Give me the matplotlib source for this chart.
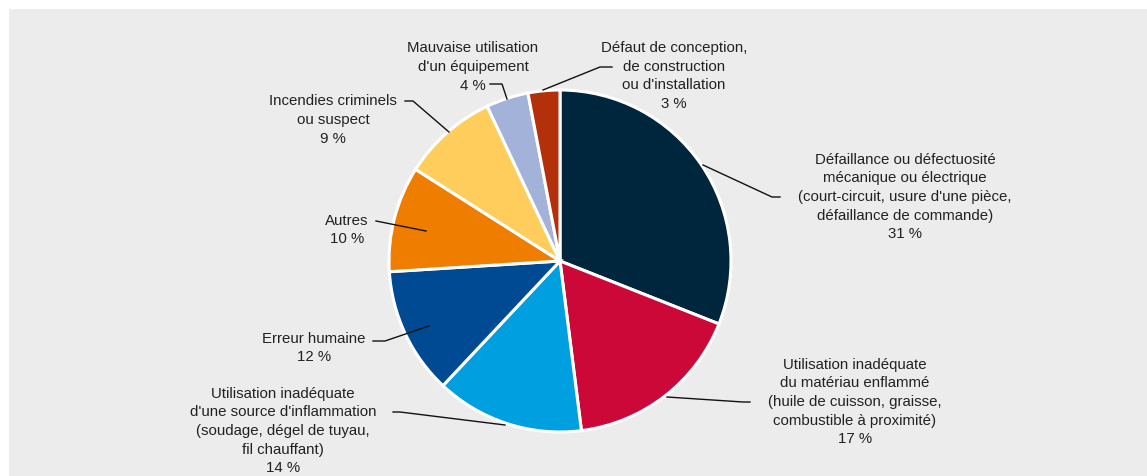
import matplotlib.pyplot as plt
from matplotlib.patches import Rectangle

plt.rcParams['font.family'] = ['Liberation Sans', 'DejaVu Sans']

# causes, clockwise from 12 o'clock
labels = [
    "Défaillance ou défectuosité\nmécanique ou électrique\n(court-circuit, usure d'une pièce,\ndéfaillance de commande)",
    "Utilisation inadéquate\ndu matériau enflammé\n(huile de cuisson, graisse,\ncombustible à proximité)",
    "Utilisation inadéquate\nd'une source d'inflammation\n(soudage, dégel de tuyau,\nfil chauffant)",
    "Erreur humaine",
    "Autres",
    "Incendies criminels\nou suspect",
    "Mauvaise utilisation\nd'un équipement",
    "Défaut de conception,\nde construction\nou d'installation",
]
values = [31, 17, 14, 12, 10, 9, 4, 3]
colors = ["#00263e", "#cc0838", "#009fe0", "#004a94", "#ef7d00", "#ffcd5c", "#a3b2d9", "#b3300a"]

W, H = 1147, 477
fig = plt.figure(figsize=(W / 100, H / 100), dpi=100, facecolor="white")
ax = fig.add_axes([0, 0, 1, 1])

def Y(y):  # pixel row from the top -> axes y
    return H - y

ax.add_patch(Rectangle((9, 0), W - 9, Y(10), facecolor="#ececec", edgecolor="none", zorder=0))

ax.pie(values, colors=colors, startangle=90, counterclock=False,
       center=(560, Y(262)), radius=171, frame=True,
       wedgeprops=dict(edgecolor="white", linewidth=2.2))
ax.set_xlim(0, W)
ax.set_ylim(0, H)
ax.set_aspect("equal")
ax.axis("off")

# label centres and leader paths (pixels from top-left)
text_pos = [(905, 197), (855, 402), (283, 431), (314, 348), (347, 230), (333, 120), (473, 67), (674, 76)]
leaders = [
    [(703, 166), (772, 198), (780, 198)],
    [(667, 398), (743, 403), (750, 403)],
    [(393, 413), (400, 413), (505, 426)],
    [(373, 342), (385, 342), (429, 327)],
    [(376, 222), (426, 232)],
    [(405, 102), (413, 102), (449, 133)],
    [(490, 85), (502, 85), (507, 100)],
    [(612, 68), (600, 68), (543, 91)],
]

for lab, v, (tx, ty), path in zip(labels, values, text_pos, leaders):
    ax.text(tx, Y(ty), f"{lab}\n{v} %", ha="center", va="center",
            fontsize=10.8, color="#222222", linespacing=1.42, zorder=5)
    ax.plot([p[0] for p in path], [Y(p[1]) for p in path], color="#111111", lw=1.0, zorder=6)

fig.savefig("out.png", dpi=100, facecolor="white")
